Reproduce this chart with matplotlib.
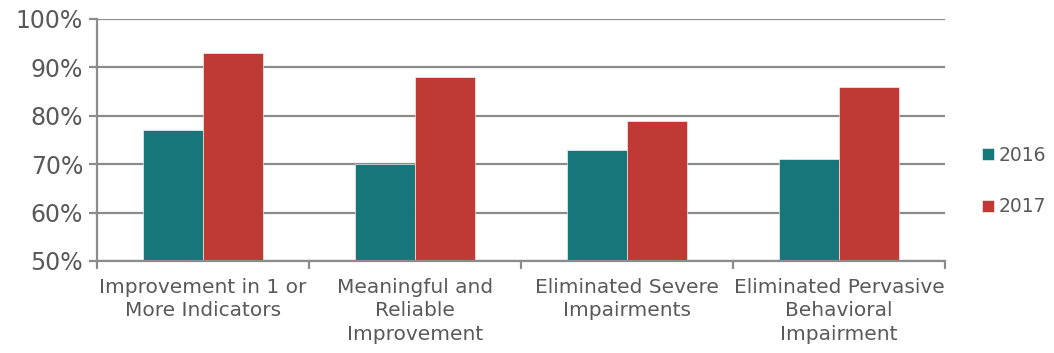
import matplotlib.pyplot as plt
import numpy as np

categories = ["Improvement in 1 or\nMore Indicators", "Meaningful and\nReliable\nImprovement",
              "Eliminated Severe\nImpairments", "Eliminated Pervasive\nBehavioral\nImpairment"]
vals_2016 = [77, 70, 73, 71]
vals_2017 = [93, 88, 79, 86]
series_names = ["2016", "2017"]
yticks = [50, 60, 70, 80, 90, 100]

teal = "#17767a"
red = "#bf3a35"
grey = "#8c8c8c"
txt = "#595959"

plt.rcParams['font.family'] = ['DejaVu Sans']

fig = plt.figure(figsize=(10.54, 3.53), dpi=100)
ax = fig.add_axes([97/1054, 1-261/353, (945-97)/1054, (261-19)/353])

x = np.arange(len(categories))
w = 0.285
ax.bar(x - w/2, vals_2016, w, color=teal, label=series_names[0], zorder=3,
       edgecolor="white", linewidth=0.4)
ax.bar(x + w/2, vals_2017, w, color=red, label=series_names[1], zorder=3,
       edgecolor="white", linewidth=0.4)

ax.set_ylim(50, 100)
ax.set_xlim(-0.5, len(categories) - 0.5)
ax.set_yticks(yticks)
ax.set_yticklabels([f"{v}%" for v in yticks])
ax.yaxis.grid(True, color=grey, linewidth=1.6, zorder=0)
ax.set_axisbelow(True)

for s in ["top", "right"]:
    ax.spines[s].set_visible(False)
for s in ["left", "bottom"]:
    ax.spines[s].set_color(grey)
    ax.spines[s].set_linewidth(1.6)
    ax.spines[s].set_zorder(4)

ax.set_xticks(x)
ax.set_xticklabels(categories, fontsize=14.5, color=txt, linespacing=1.3)
ax.set_xticks(np.arange(-0.5, len(categories)), minor=True)
ax.tick_params(axis="x", which="major", length=0, pad=12)
ax.tick_params(axis="x", which="minor", length=6, width=1.6, color=grey)
ax.tick_params(axis="y", length=6, width=1.6, color=grey, labelsize=17, labelcolor=txt, pad=4)

leg = fig.legend(loc="center left", bbox_to_anchor=(982/1054, 0.487), frameon=False,
                 fontsize=13.5, handlelength=0.65, handleheight=0.65, handletextpad=0.25,
                 labelspacing=1.75, labelcolor=txt, borderpad=0, borderaxespad=0)

fig.savefig("out.png", dpi=100)
